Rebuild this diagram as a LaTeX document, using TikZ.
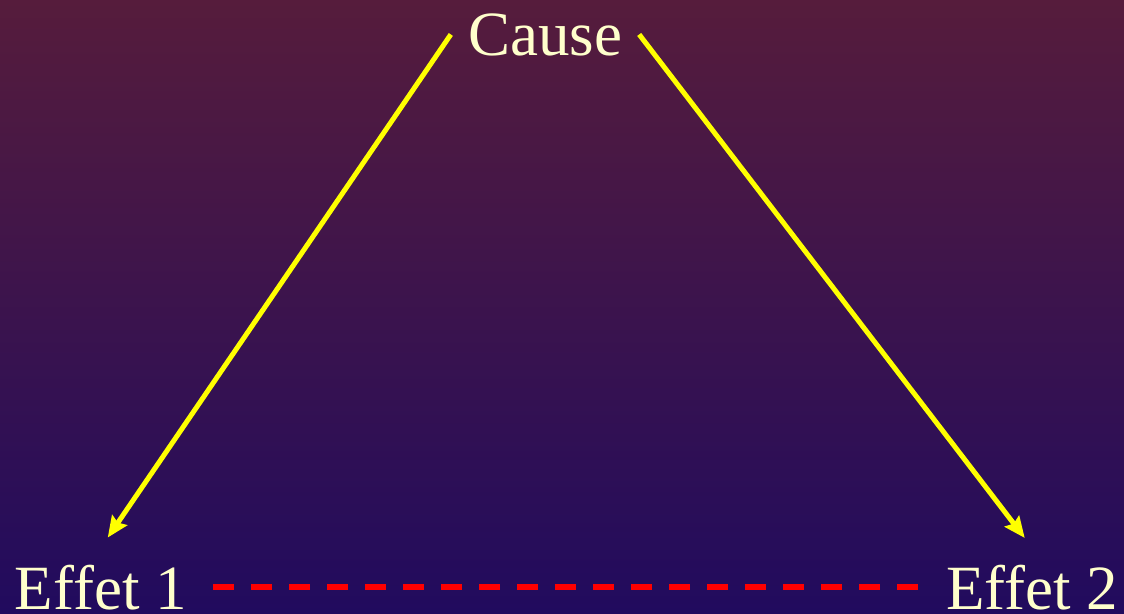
\documentclass[tikz,border=0pt]{standalone}
\usepackage{fontspec}
\setmainfont{Liberation Serif}
\usetikzlibrary{arrows.meta,positioning}
\definecolor{cTop}{HTML}{561C3C}
\definecolor{cBot}{HTML}{210B5E}
\definecolor{cText}{HTML}{FFFFCC}
\definecolor{cArrow}{HTML}{FFFF00}
\definecolor{cLink}{HTML}{FF0000}
\tikzset{
  term/.style={text=cText, font=\fontsize{63}{71}\selectfont, inner sep=17pt, anchor=base},
  arr/.style={-{Stealth[length=21pt,width=18pt,inset=3pt]}, line width=5pt, draw=cArrow, shorten >=12pt},
  corr/.style={draw=cLink, line width=5.5pt, dash pattern=on 21pt off 17pt, shorten <=9pt, shorten >=9pt},
}

\begin{document}
\begin{tikzpicture}[x=1pt,y=-1pt]
  \useasboundingbox (0,0) rectangle (1124,613);
  \shade[top color=cTop, bottom color=cBot] (0,0) rectangle (1124,613);
  \node[term] (cause) at (545,55) {Cause};
  \node[term] (eff1) at (101,609) {Effet 1};
  \node[term] (eff2) at (1032,609) {Effet 2};
  \draw[arr] (cause.west) -- (eff1.north);
  \draw[arr] (cause.east) -- (eff2.north);
  \draw[corr] (eff1.east) -- (eff2.west);
\end{tikzpicture}
\end{document}
